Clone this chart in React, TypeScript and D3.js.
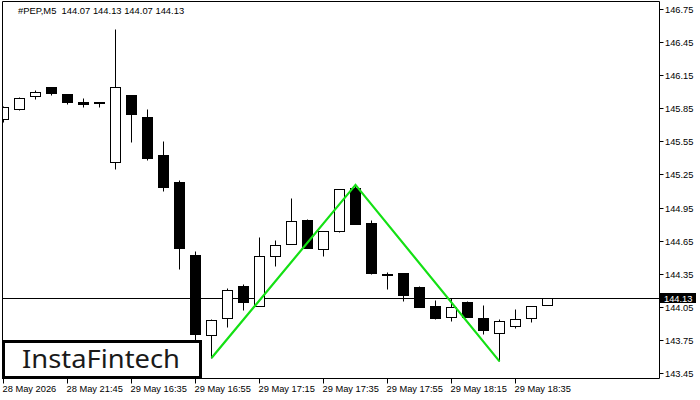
import * as d3 from 'd3';

// OHLC of each M5 bar, left to right (bar 0 is cut off by the left edge)
const opens = [
  145.75, 145.84, 145.96, 146.04, 145.98, 145.91, 145.91, 145.36, 145.97, 145.77,
  145.43, 145.18, 144.52, 143.79, 143.95, 144.24, 144.06, 144.51, 144.62, 144.84,
  144.57, 144.74, 145.13, 144.81, 144.35, 144.36, 144.23, 144.06, 143.96, 144.09,
  143.95, 143.81, 143.88, 143.95, 144.07,
];
const highs = [
  145.87, 145.95, 146.02, 146.04, 145.98, 145.94, 145.91, 146.57, 145.97, 145.84,
  145.55, 145.2, 144.56, 143.94, 144.22, 144.26, 144.68, 144.66, 145.04, 144.85,
  144.74, 145.12, 145.16, 144.84, 144.37, 144.36, 144.24, 144.11, 144.13, 144.1,
  144.07, 143.94, 144.03, 144.06, 144.13,
];
const lows = [
  145.73, 145.83, 145.93, 145.97, 145.89, 145.86, 145.86, 145.3, 145.54, 145.38,
  145.1, 144.39, 143.75, 143.59, 143.87, 144.02, 144.06, 144.42, 144.62, 144.58,
  144.51, 144.73, 144.8, 144.35, 144.21, 144.1, 144.05, 143.94, 143.92, 143.96,
  143.8, 143.56, 143.86, 143.91, 144.07,
];
const closes = [
  145.86, 145.94, 146.0, 145.99, 145.91, 145.89, 145.9, 146.04, 145.8, 145.4,
  145.14, 144.58, 143.8, 143.93, 144.2, 144.09, 144.51, 144.61, 144.83, 144.58,
  144.74, 145.12, 144.8, 144.36, 144.34, 144.16, 144.05, 143.95, 144.05, 143.96,
  143.84, 143.92, 143.94, 144.06, 144.13,
];

// double top pattern: [bar index, price]
const patternPoints: [number, number][] = [
  [13, 143.59],
  [22, 145.16],
  [31, 143.56],
];

const priceTicks = [
  143.45, 143.75, 144.05, 144.35, 144.65, 144.95, 145.25, 145.55, 145.85, 146.15,
  146.45, 146.75,
];
const timeTickBars = [0, 4, 8, 12, 16, 20, 24, 28, 32];
const timeLabels = [
  '28 May 2026', '28 May 21:45', '29 May 16:35', '29 May 16:55', '29 May 17:15',
  '29 May 17:35', '29 May 17:55', '29 May 18:15', '29 May 18:35',
];

const symbol = '#PEP,M5';
const lastPrice = 144.13;

export default function App() {
  const left = 2.5;
  const top = 1.5;
  const right = 659.5;
  const bottom = 378.5;

  const x = d3.scaleLinear().domain([0, 1]).range([3.5, 19.5]);
  const y = d3.scaleLinear().domain([143.45, 146.75]).range([373.5, 9.5]);
  const sy = (v: number) => Math.round(y(v) - 0.5) + 0.5;

  const bars = opens.map((o, i) => ({
    o,
    h: highs[i],
    l: lows[i],
    c: closes[i],
    i,
  }));

  const line = d3
    .line<[number, number]>()
    .x((d) => x(d[0]))
    .y((d) => y(d[1]));

  const font = '"Liberation Sans", Arial, sans-serif';
  const lastY = sy(lastPrice);
  const n = opens.length - 1;

  return (
    <svg
      width={700}
      height={400}
      style={{ position: 'absolute', left: 0, top: 0, background: '#fff' }}
      fontFamily={font}
    >
      <defs>
        <clipPath id="plot">
          <rect x={left} y={top} width={right - left} height={bottom - top} />
        </clipPath>
      </defs>
      <rect x={0} y={0} width={700} height={400} fill="#fff" />

      <g clipPath="url(#plot)">
        <line x1={left} x2={right} y1={lastY} y2={lastY} stroke="#000" strokeWidth={1} />
        {bars.map((b) => {
          const cx = x(b.i);
          const bull = b.c >= b.o;
          const yt = sy(Math.max(b.o, b.c));
          const yb = sy(Math.min(b.o, b.c));
          return (
            <g key={b.i}>
              <line x1={cx} x2={cx} y1={sy(b.h)} y2={sy(b.l)} stroke="#000" />
              <rect
                x={cx - 5}
                y={yt}
                width={10}
                height={Math.max(yb - yt, 0.01)}
                fill={bull ? '#fff' : '#000'}
                stroke="#000"
              />
            </g>
          );
        })}
        <path
          d={line(patternPoints) ?? ''}
          fill="none"
          stroke="#14e014"
          strokeWidth={2.2}
        />
      </g>

      {/* frame */}
      <path
        d={`M${left},${bottom}V${top}H${right}V${bottom}H${left}`}
        fill="none"
        stroke="#000"
      />

      <text x={18} y={14} fontSize={9.4} fill="#000" style={{ whiteSpace: 'pre' }}>
        {`${symbol}  ${opens[n].toFixed(2)} ${highs[n].toFixed(2)} ${lows[n].toFixed(2)} ${closes[n].toFixed(2)}`}
      </text>

      {/* price axis */}
      {priceTicks.map((p) => (
        <g key={p}>
          <line x1={right} x2={right + 4} y1={sy(p)} y2={sy(p)} stroke="#000" />
          <text x={665} y={sy(p)} dy="0.35em" fontSize={9.3} fill="#000">
            {p.toFixed(2)}
          </text>
        </g>
      ))}
      <rect x={660} y={lastY - 5.5} width={36} height={10} fill="#000" />
      <text x={664} y={lastY} dy="0.35em" fontSize={9.3} fill="#fff">
        {lastPrice.toFixed(2)}
      </text>

      {/* time axis */}
      {timeTickBars.map((bi, k) => (
        <g key={bi}>
          <line x1={x(bi)} x2={x(bi)} y1={bottom} y2={bottom + 5} stroke="#000" />
          <text x={x(bi) - 1} y={392} fontSize={9.3} fill="#000">
            {timeLabels[k]}
          </text>
        </g>
      ))}

      {/* logo */}
      <rect x={3.5} y={341.5} width={197} height={36} fill="#fff" stroke="#000" strokeWidth={3} />
      <text
        x={22}
        y={367.5}
        fontSize={25.5}
        fontFamily='"Noto Sans", sans-serif'
        fontWeight={400}
        fill="#1a1a1a"
        textLength={158}
        lengthAdjust="spacingAndGlyphs"
      >
        InstaFintech
      </text>
    </svg>
  );
}
